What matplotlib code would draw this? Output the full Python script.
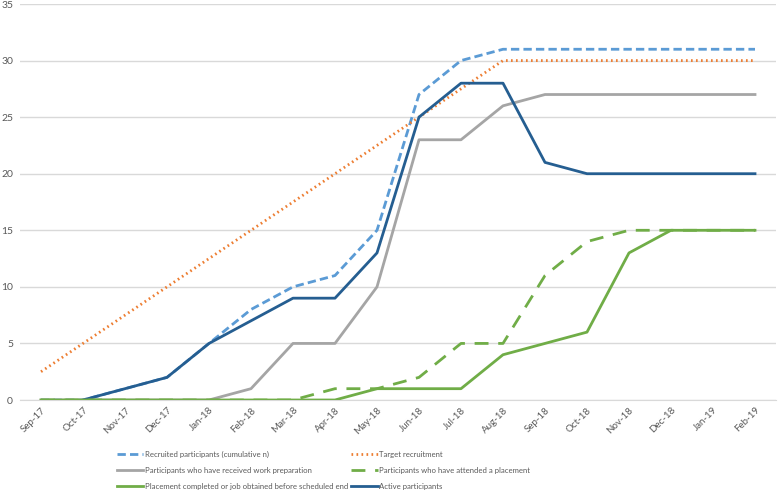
import matplotlib.pyplot as plt

plt.rcParams['font.family'] = ['Lato', 'DejaVu Sans']

months = ['Sep-17', 'Oct-17', 'Nov-17', 'Dec-17', 'Jan-18', 'Feb-18', 'Mar-18', 'Apr-18', 'May-18',
          'Jun-18', 'Jul-18', 'Aug-18', 'Sep-18', 'Oct-18', 'Nov-18', 'Dec-18', 'Jan-19', 'Feb-19']
recruited = [0, 0, 1, 2, 5, 8, 10, 11, 15, 27, 30, 31, 31, 31, 31, 31, 31, 31]
target = [2.5, 5, 7.5, 10, 12.5, 15, 17.5, 20, 22.5, 25, 27.5, 30, 30, 30, 30, 30, 30, 30]
work_prep = [0, 0, 0, 0, 0, 1, 5, 5, 10, 23, 23, 26, 27, 27, 27, 27, 27, 27]
attended = [0, 0, 0, 0, 0, 0, 0, 1, 1, 2, 5, 5, 11, 14, 15, 15, 15, 15]
completed = [0, 0, 0, 0, 0, 0, 0, 0, 1, 1, 1, 4, 5, 6, 13, 15, 15, 15]
active = [0, 0, 1, 2, 5, 7, 9, 9, 13, 25, 28, 28, 21, 20, 20, 20, 20, 20]

fig = plt.figure(figsize=(7.78, 4.96), dpi=100)
ax = fig.add_axes([20/778, 1 - 400/496, 756/778, 396/496])

x = list(range(len(months)))
# blue lines first so the greens sit on top along zero
ax.plot(x, recruited, color='#5B9BD5', lw=2, ls=(0, (3, 1.5)), label='Recruited participants (cumulative n)', zorder=3)
ax.plot(x, target, color='#ED7D31', lw=2, ls=(0, (0.6, 1.2)), label='Target recruitment', zorder=3)
ax.plot(x, work_prep, color='#A5A5A5', lw=2, label='Participants who have received work preparation', zorder=3)
ax.plot(x, attended, color='#70AD47', lw=2, ls=(0, (5, 3.5)), label='Participants who have attended a placement', zorder=4)
ax.plot(x[1:], active[1:], color='#255E91', lw=2, label='Active participants', zorder=3)
ax.plot(x, completed, color='#70AD47', lw=2, label='Placement completed or job obtained before scheduled end', zorder=4)

ax.set_xlim(-0.5, len(months) - 0.5)
ax.set_ylim(0, 35)
ax.set_yticks(range(0, 36, 5))
ax.set_xticks(x)
ax.set_xticklabels(months, rotation=45, ha='right', rotation_mode='anchor', fontsize=7, color='#595959')
ax.tick_params(axis='y', labelsize=7.5, colors='#595959', length=0, pad=5)
ax.tick_params(axis='x', length=0, pad=4)
ax.grid(axis='y', color='#D9D9D9', lw=1)
ax.set_axisbelow(True)
for s in ['top', 'right', 'left']:
  ax.spines[s].set_visible(False)
ax.spines['bottom'].set_color('#D9D9D9')

handles, labels = ax.get_legend_handles_labels()
# row-major order for the 2-column legend
order = [0, 2, 5, 1, 3, 4]
h = [handles[i] for i in order]
l = [labels[i] for i in order]
leg = fig.legend(h, l, ncol=2, loc='lower left', bbox_to_anchor=(110/778, -0.002), frameon=False,
                 fontsize=5.6, labelcolor='#595959', handlelength=3.4, columnspacing=0.4,
                 labelspacing=1.15, handletextpad=0.2)

plt.savefig('out.png', dpi=100)
